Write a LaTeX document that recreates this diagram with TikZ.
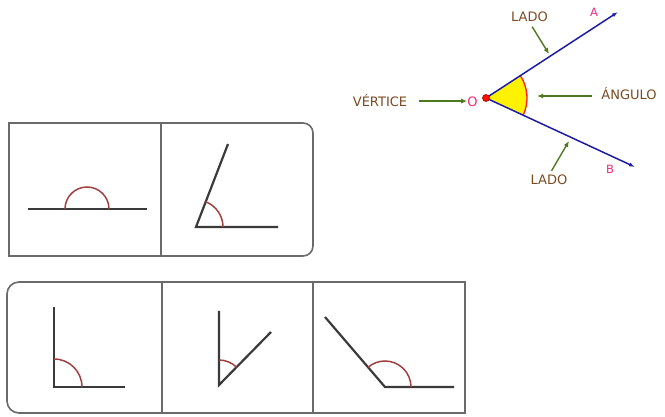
\documentclass[tikz,border=0pt]{standalone}
\usepackage{fontspec}
\setmainfont{DejaVu Sans}
\usetikzlibrary{arrows.meta,positioning}
\definecolor{txtbrown}{HTML}{7B4A21}
\definecolor{ptrgreen}{HTML}{4D7A1F}
\definecolor{raypink}{HTML}{EE2A7B}
\definecolor{rayblue}{HTML}{1C1CA8}
\definecolor{figgray}{HTML}{3A3A3A}
\definecolor{arcred}{HTML}{A0403F}
\definecolor{boxgray}{HTML}{6A6A6A}

\begin{document}
\begin{tikzpicture}[x=1pt, y=-1pt, every node/.style={font=\fontsize{13}{15}\selectfont, inner sep=0pt}]
\tikzset{word/.style={text=txtbrown, anchor=base},
  letter/.style={text=raypink, anchor=base},
  pointer/.style={draw=ptrgreen, line width=1.4pt, -{Latex[length=6pt,width=5pt]}},
  ray/.style={draw=rayblue, line width=1.5pt, -{Latex[length=6pt,width=4pt]}},
  stroke/.style={draw=figgray, line width=2.2pt},
  anglearc/.style={draw=arcred, line width=1.5pt},
  frame/.style={draw=boxgray, line width=1.6pt}}
\useasboundingbox (0,0) rectangle (665,417);

% angle with its parts
\coordinate (O) at (486,98);
\coordinate (A) at (618,12);
\coordinate (B) at (635,167);
\fill[yellow] (O) -- ++(-33.3:41) arc[start angle=-33.3, end angle=24.7, radius=41] -- cycle;
\draw[red!80!orange, line width=1.3pt] (O) ++(-33.3:41) arc[start angle=-33.3, end angle=24.7, radius=41];
\draw[ray] (O) -- (A);
\draw[ray] (O) -- (B);
\filldraw[fill=red!90!orange, draw=red!60!black, line width=0.6pt] (O) circle[radius=3.5];

\node[letter] (vo) at (472.5,107) {O};
\node[letter, font=\fontsize{11.5}{13}\selectfont] (la) at (594,17) {A};
\node[letter, font=\fontsize{11.5}{13}\selectfont] (lb) at (610,174) {B};
\node[word] (vert) at (380,107) {VÉRTICE};
\node[word] (ang) at (629,100) {ÁNGULO};
\node[word] (ladoA) at (529.5,22) {LADO};
\node[word] (ladoB) at (549,185) {LADO};

\coordinate (angtip) at (537,96);
\coordinate (ladoAtip) at (549,54);
\coordinate (ladoBtip) at (569,141);
\draw[pointer, shorten <=12pt] (vert.east) -- (vert.east -| vo.west);
\draw[pointer, shorten <=9pt] (ang.west |- angtip) -- (angtip);
\draw[pointer, shorten <=5pt] (ladoA.south) -- (ladoAtip);
\draw[pointer, shorten <=5pt] (ladoB.north) -- (ladoBtip);

% upper frame: straight and reflex-like angles
\draw[frame] (9,123) -- (303,123) arc[start angle=-90, end angle=0, radius=10]
  -- (313,246) arc[start angle=0, end angle=90, radius=10] -- (9,256) -- cycle;
\draw[frame] (161,123) -- (161,256);
\draw[stroke] (28,209) -- (147,209);
\draw[anglearc] (65,209) arc[start angle=180, end angle=360, radius=22];
\coordinate (v2) at (196,227);
\draw[stroke] (228,144) -- (v2) -- (278,227);
\draw[anglearc] (v2) ++(0:27) arc[start angle=0, end angle=-69, radius=27];

% lower frame: right, acute and obtuse angles
\draw[frame] (465,282) -- (19,282) arc[start angle=-90, end angle=-180, radius=12]
  -- (7,401) arc[start angle=180, end angle=90, radius=12] -- (465,413) -- cycle;
\draw[frame] (162,282) -- (162,413);
\draw[frame] (313,282) -- (313,413);
\coordinate (v3) at (54,387);
\draw[stroke] (54,307) -- (v3) -- (125,387);
\draw[anglearc] (v3) ++(0:28) arc[start angle=0, end angle=-90, radius=28];
\coordinate (v4) at (219,385);
\draw[stroke] (219,311) -- (v4) -- (271,332);
\draw[anglearc] (v4) ++(-45.5:25) arc[start angle=-45.5, end angle=-90, radius=25];
\coordinate (v5) at (385,387);
\draw[stroke] (325,317) -- (v5) -- (454,387);
\draw[anglearc] (v5) ++(0:26) arc[start angle=0, end angle=-131, radius=26];
\end{tikzpicture}
\end{document}
